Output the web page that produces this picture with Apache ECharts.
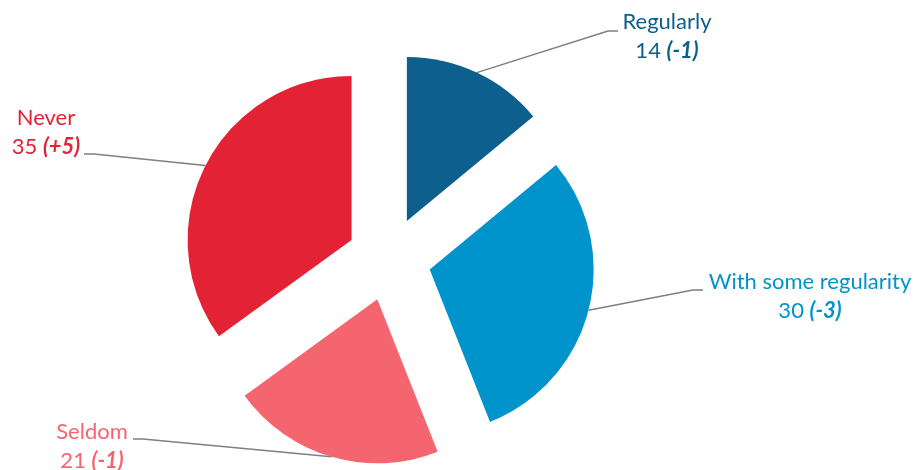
<!DOCTYPE html>
<html>
<head>
<meta charset="utf-8">
<script src="https://cdn.jsdelivr.net/npm/echarts@6/dist/echarts.min.js"></script>
<style>
  html, body { margin: 0; padding: 0; background: #fff; }
  #chart { width: 919px; height: 470px; }
</style>
</head>
<body>
<div id="chart"></div>
<script>
var categories = ['Regularly', 'With some regularity', 'Seldom', 'Never'];
var values = [14, 30, 21, 35];
var changes = ['-1', '-3', '-1', '+5'];
var colors = ['#0d5f8e', '#0093cc', '#f4656f', '#e32235'];

// where each label sits (text centre) and where its leader line ends
var labelSpots = [
    { x: 667, y: 36, endX: 618, endY: 31 },
    { x: 810, y: 296, endX: 703, endY: 290 },
    { x: 92, y: 446, endX: 133, endY: 439 },
    { x: 46, y: 132, endX: 84, endY: 154 }
];

var cx = 389, cy = 259, explode = 42;

var chart = echarts.init(document.getElementById('chart'));

var total = 0;
for (var i = 0; i < values.length; i++) total += values[i];

// one pie per slice so every slice can be pushed out from the centre
var series = [];
var acc = 0;
for (var k = 0; k < categories.length; k++) {
    var mid = (acc + values[k] / 2) / total * Math.PI * 2;
    acc += values[k];
    var data = [];
    for (var j = 0; j < categories.length; j++) {
        var on = j === k;
        data.push({
            name: categories[j],
            value: values[j],
            change: changes[j],
            itemStyle: { color: on ? colors[j] : 'rgba(0,0,0,0)' },
            label: {
                show: on,
                rich: {
                    n: { color: colors[j], fontSize: 22, lineHeight: 29, fontFamily: 'Lato' },
                    v: { color: colors[j], fontSize: 22, lineHeight: 29, fontFamily: 'Lato' },
                    d: { color: colors[j], fontSize: 22, lineHeight: 29, fontFamily: 'Lato', fontWeight: 'bold', fontStyle: 'italic' }
                }
            },
            labelLine: { show: on }
        });
    }
    series.push({
        type: 'pie',
        center: [cx + explode * Math.sin(mid), cy - explode * Math.cos(mid)],
        radius: 164,
        startAngle: 90,
        clockwise: true,
        silent: true,
        avoidLabelOverlap: false,
        data: data,
        label: {
            position: 'outside',
            align: 'center',
            formatter: function (p) {
                return '{n|' + p.name + '}\n{v|' + p.value + ' }{d|(' + p.data.change + ')}';
            }
        },
        labelLine: {
            length: 20,
            length2: 10,
            lineStyle: { color: '#7f7f7f', width: 1.5 }
        },
        labelLayout: function (params) {
            if (params.seriesIndex !== params.dataIndex || !params.labelLinePoints) {
                return {};
            }
            var s = labelSpots[params.dataIndex];
            var start = params.labelLinePoints[0];
            var dir = s.endX > start[0] ? -1 : 1;
            return {
                x: s.x,
                y: s.y,
                align: 'center',
                verticalAlign: 'middle',
                labelLinePoints: [start, [s.endX + dir * 10, s.endY], [s.endX, s.endY]]
            };
        },
        emphasis: { disabled: true }
    });
}

chart.setOption({ animation: false, series: series });
</script>
</body>
</html>
